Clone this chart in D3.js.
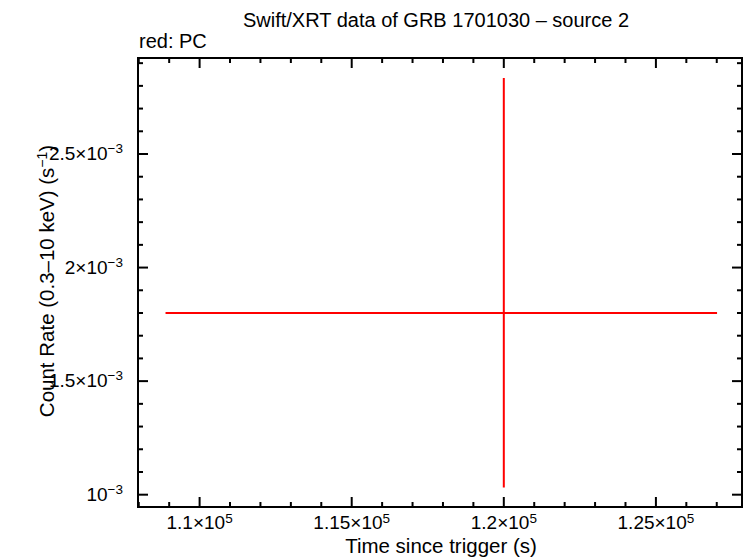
<!DOCTYPE html>
<html><head><meta charset="utf-8">
<script src="https://cdn.jsdelivr.net/npm/d3@7"></script>
<style>
html,body{margin:0;padding:0;background:#fff;}
text{font-family:"Liberation Sans",Arial,Helvetica,sans-serif;fill:#000;}
</style></head>
<body>
<svg id="chart" width="746" height="558"></svg>
<script>
// ---- data ----
const times = [120000];          // bin centre (s)
const timeLo = [108880];         // bin start (s)
const timeHi = [127010];         // bin end (s)
const rates = [1.80e-3];         // count rate (s^-1)
const rateLo = [1.032e-3];       // lower error bound
const rateHi = [2.835e-3];       // upper error bound
const xTickValues = [110000, 115000, 120000, 125000];
const xTickMantissa = ["1.1", "1.15", "1.2", "1.25"];
const yTickValues = [1.0e-3, 1.5e-3, 2.0e-3, 2.5e-3];
const yTickMantissa = ["", "1.5", "2", "2.5"];
const titleText = "Swift/XRT data of GRB 1701030 \u2013 source 2";
const legendText = "red: PC";
const xLabel = "Time since trigger (s)";

const svg = d3.select("#chart");
const L = 138, R = 742, T = 58, B = 507;
const x = d3.scaleLinear().domain([107975, 127830]).range([L, R]);
const y = d3.scaleLinear().domain([0.9458e-3, 2.9227e-3]).range([B, T]);

const xMinor = d3.range(108000, 127830, 1000);
const yMinor = d3.range(10, 30, 1).map(v => v * 1e-4);

const tickG = svg.append("g").attr("stroke", "#000").attr("stroke-width", 2);
xMinor.forEach(v => {
  const len = xTickValues.includes(v) ? 10 : 5;
  tickG.append("line").attr("x1", x(v)).attr("x2", x(v)).attr("y1", B).attr("y2", B - len);
  tickG.append("line").attr("x1", x(v)).attr("x2", x(v)).attr("y1", T).attr("y2", T + len);
});
yMinor.forEach(v => {
  const major = yTickValues.some(a => Math.abs(a - v) < 1e-8);
  const len = major ? 10 : 5;
  tickG.append("line").attr("y1", y(v)).attr("y2", y(v)).attr("x1", L).attr("x2", L + len);
  tickG.append("line").attr("y1", y(v)).attr("y2", y(v)).attr("x1", R).attr("x2", R - len);
});

// frame
svg.append("rect").attr("x", L).attr("y", T).attr("width", R - L).attr("height", B - T)
  .attr("fill", "none").attr("stroke", "#000").attr("stroke-width", 2);

// x tick labels
xTickValues.forEach((v, i) => {
  const t = svg.append("text").attr("x", x(v)).attr("y", 529).attr("text-anchor", "middle")
    .attr("font-size", 19);
  t.append("tspan").text(xTickMantissa[i] + "\u00d710");
  t.append("tspan").attr("dy", -6).attr("font-size", 13.5).text("5");
});
// y tick labels
yTickValues.forEach((v, i) => {
  const t = svg.append("text").attr("x", 123).attr("y", y(v) + 6).attr("text-anchor", "end")
    .attr("font-size", 19);
  t.append("tspan").text((yTickMantissa[i] ? yTickMantissa[i] + "\u00d7" : "") + "10");
  t.append("tspan").attr("dy", -7).attr("font-size", 13.5).text("\u22123");
});

// titles
svg.append("text").attr("x", 436).attr("y", 27).attr("text-anchor", "middle").attr("font-size", 20).text(titleText);
svg.append("text").attr("x", 139).attr("y", 48).attr("font-size", 20).text(legendText);
svg.append("text").attr("x", 441).attr("y", 553).attr("text-anchor", "middle").attr("font-size", 20.5).text(xLabel);
const yl = svg.append("text").attr("transform", "translate(54,281) rotate(-90)").attr("text-anchor", "middle").attr("font-size", 20.5);
yl.append("tspan").text("Count Rate (0.3\u201310 keV) (s");
yl.append("tspan").attr("dy", -7).attr("font-size", 14).text("\u22121");
yl.append("tspan").attr("dy", 7).text(")");

// data: error crosses
const dg = svg.append("g").attr("stroke", "#ff0000").attr("stroke-width", 2);
times.forEach((t, i) => {
  dg.append("line").attr("x1", x(timeLo[i])).attr("x2", x(timeHi[i])).attr("y1", y(rates[i])).attr("y2", y(rates[i]));
  dg.append("line").attr("x1", x(t)).attr("x2", x(t)).attr("y1", y(rateLo[i])).attr("y2", y(rateHi[i]));
});
</script>
</body></html>
